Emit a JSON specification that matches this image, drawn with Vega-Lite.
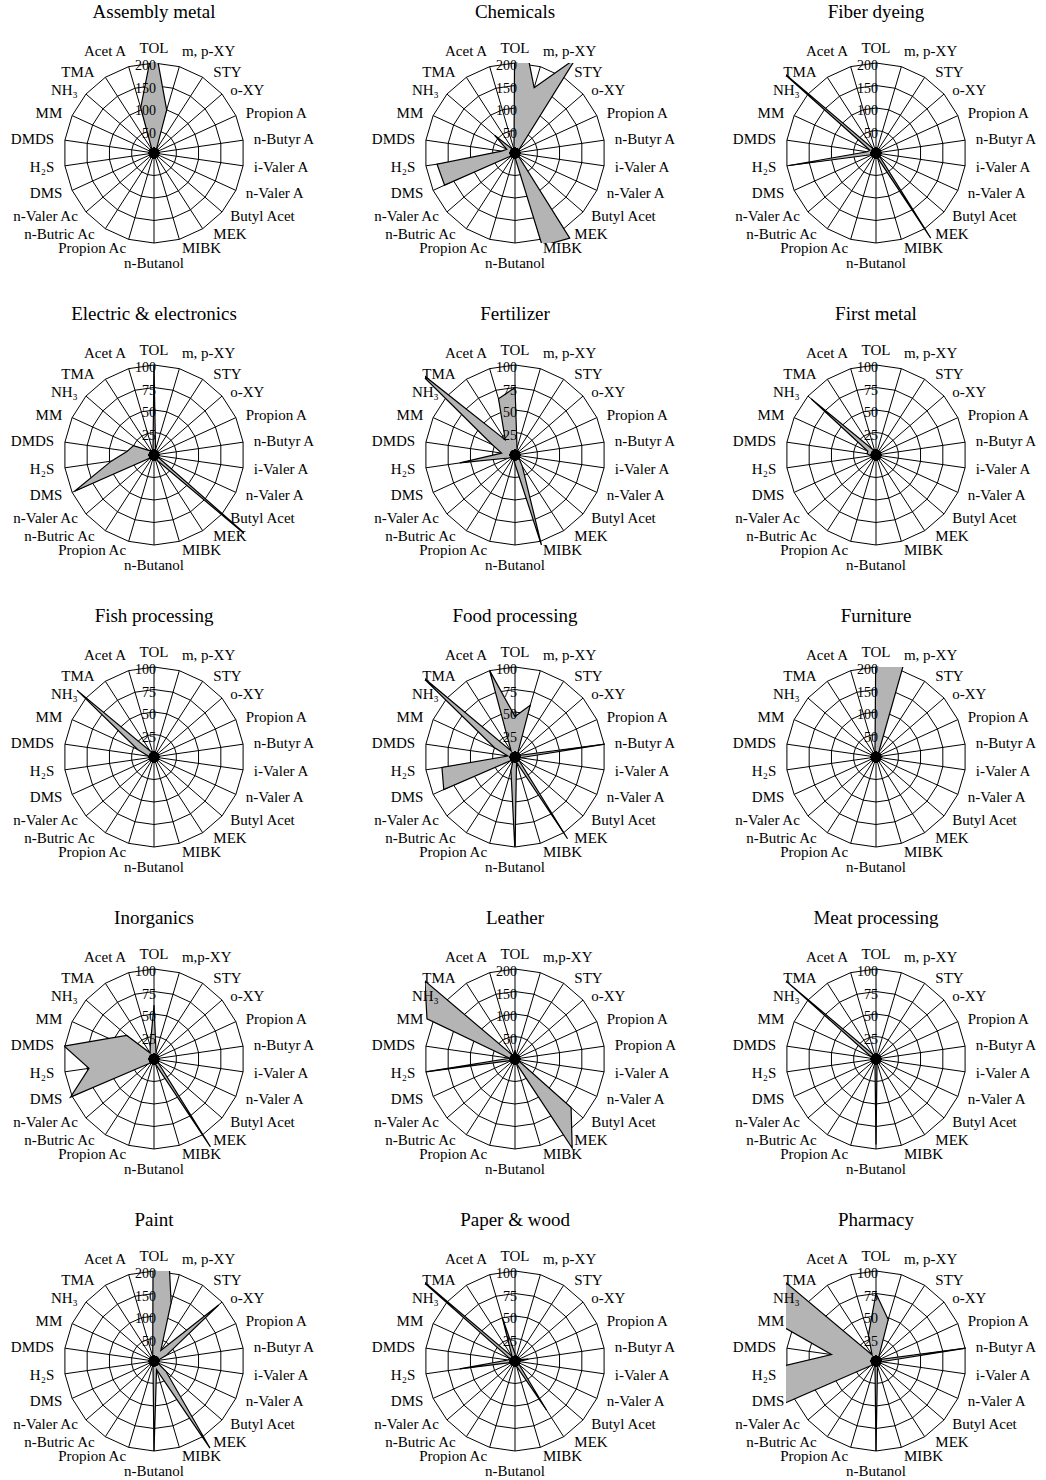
{
  "$schema": "https://vega.github.io/schema/vega-lite/v6.json",
  "padding": {"left": 10, "top": 2, "right": 5, "bottom": 0},
  "background": "white",
  "datasets": {
    "panels": [
      {"panel": "Assembly metal", "max": 200},
      {"panel": "Chemicals", "max": 200},
      {"panel": "Fiber dyeing", "max": 200},
      {"panel": "Electric & electronics", "max": 100},
      {"panel": "Fertilizer", "max": 100},
      {"panel": "First metal", "max": 100},
      {"panel": "Fish processing", "max": 100},
      {"panel": "Food processing", "max": 100},
      {"panel": "Furniture", "max": 200},
      {"panel": "Inorganics", "max": 100},
      {"panel": "Leather", "max": 200},
      {"panel": "Meat processing", "max": 100},
      {"panel": "Paint", "max": 200},
      {"panel": "Paper & wood", "max": 100},
      {"panel": "Pharmacy", "max": 100}
    ],
    "d": [
      {"panel": "Assembly metal", "var": "TOL", "val": 250},
      {"panel": "Assembly metal", "var": "m, p-XY", "val": 100},
      {"panel": "Assembly metal", "var": "STY", "val": 10},
      {"panel": "Assembly metal", "var": "o-XY", "val": 8},
      {"panel": "Assembly metal", "var": "Propion A", "val": 6},
      {"panel": "Assembly metal", "var": "n-Butyr A", "val": 6},
      {"panel": "Assembly metal", "var": "i-Valer A", "val": 6},
      {"panel": "Assembly metal", "var": "n-Valer A", "val": 6},
      {"panel": "Assembly metal", "var": "Butyl Acet", "val": 8},
      {"panel": "Assembly metal", "var": "MEK", "val": 10},
      {"panel": "Assembly metal", "var": "MIBK", "val": 8},
      {"panel": "Assembly metal", "var": "n-Butanol", "val": 10},
      {"panel": "Assembly metal", "var": "Propion Ac", "val": 6},
      {"panel": "Assembly metal", "var": "n-Butric Ac", "val": 6},
      {"panel": "Assembly metal", "var": "n-Valer Ac", "val": 6},
      {"panel": "Assembly metal", "var": "DMS", "val": 6},
      {"panel": "Assembly metal", "var": "H₂S", "val": 8},
      {"panel": "Assembly metal", "var": "DMDS", "val": 8},
      {"panel": "Assembly metal", "var": "MM", "val": 10},
      {"panel": "Assembly metal", "var": "NH₃", "val": 12},
      {"panel": "Assembly metal", "var": "TMA", "val": 8},
      {"panel": "Assembly metal", "var": "Acet A", "val": 105},

      {"panel": "Chemicals", "var": "TOL", "val": 360},
      {"panel": "Chemicals", "var": "m, p-XY", "val": 151},
      {"panel": "Chemicals", "var": "STY", "val": 250},
      {"panel": "Chemicals", "var": "o-XY", "val": 12},
      {"panel": "Chemicals", "var": "Propion A", "val": 8},
      {"panel": "Chemicals", "var": "n-Butyr A", "val": 8},
      {"panel": "Chemicals", "var": "i-Valer A", "val": 8},
      {"panel": "Chemicals", "var": "n-Valer A", "val": 8},
      {"panel": "Chemicals", "var": "Butyl Acet", "val": 10},
      {"panel": "Chemicals", "var": "MEK", "val": 225},
      {"panel": "Chemicals", "var": "MIBK", "val": 215},
      {"panel": "Chemicals", "var": "n-Butanol", "val": 10},
      {"panel": "Chemicals", "var": "Propion Ac", "val": 8},
      {"panel": "Chemicals", "var": "n-Butric Ac", "val": 8},
      {"panel": "Chemicals", "var": "n-Valer Ac", "val": 8},
      {"panel": "Chemicals", "var": "DMS", "val": 172},
      {"panel": "Chemicals", "var": "H₂S", "val": 175},
      {"panel": "Chemicals", "var": "DMDS", "val": 30},
      {"panel": "Chemicals", "var": "MM", "val": 20},
      {"panel": "Chemicals", "var": "NH₃", "val": 60},
      {"panel": "Chemicals", "var": "TMA", "val": 10},
      {"panel": "Chemicals", "var": "Acet A", "val": 8},

      {"panel": "Fiber dyeing", "var": "TOL", "val": 8},
      {"panel": "Fiber dyeing", "var": "m, p-XY", "val": 8},
      {"panel": "Fiber dyeing", "var": "STY", "val": 8},
      {"panel": "Fiber dyeing", "var": "o-XY", "val": 8},
      {"panel": "Fiber dyeing", "var": "Propion A", "val": 8},
      {"panel": "Fiber dyeing", "var": "n-Butyr A", "val": 8},
      {"panel": "Fiber dyeing", "var": "i-Valer A", "val": 8},
      {"panel": "Fiber dyeing", "var": "n-Valer A", "val": 8},
      {"panel": "Fiber dyeing", "var": "Butyl Acet", "val": 10},
      {"panel": "Fiber dyeing", "var": "MEK", "val": 225},
      {"panel": "Fiber dyeing", "var": "MIBK", "val": 10},
      {"panel": "Fiber dyeing", "var": "n-Butanol", "val": 8},
      {"panel": "Fiber dyeing", "var": "Propion Ac", "val": 6},
      {"panel": "Fiber dyeing", "var": "n-Butric Ac", "val": 6},
      {"panel": "Fiber dyeing", "var": "n-Valer Ac", "val": 6},
      {"panel": "Fiber dyeing", "var": "DMS", "val": 8},
      {"panel": "Fiber dyeing", "var": "H₂S", "val": 195},
      {"panel": "Fiber dyeing", "var": "DMDS", "val": 20},
      {"panel": "Fiber dyeing", "var": "MM", "val": 15},
      {"panel": "Fiber dyeing", "var": "NH₃", "val": 300},
      {"panel": "Fiber dyeing", "var": "TMA", "val": 10},
      {"panel": "Fiber dyeing", "var": "Acet A", "val": 8},

      {"panel": "Electric & electronics", "var": "TOL", "val": 100},
      {"panel": "Electric & electronics", "var": "m, p-XY", "val": 6},
      {"panel": "Electric & electronics", "var": "STY", "val": 4},
      {"panel": "Electric & electronics", "var": "o-XY", "val": 4},
      {"panel": "Electric & electronics", "var": "Propion A", "val": 4},
      {"panel": "Electric & electronics", "var": "n-Butyr A", "val": 4},
      {"panel": "Electric & electronics", "var": "i-Valer A", "val": 4},
      {"panel": "Electric & electronics", "var": "n-Valer A", "val": 4},
      {"panel": "Electric & electronics", "var": "Butyl Acet", "val": 160},
      {"panel": "Electric & electronics", "var": "MEK", "val": 8},
      {"panel": "Electric & electronics", "var": "MIBK", "val": 4},
      {"panel": "Electric & electronics", "var": "n-Butanol", "val": 4},
      {"panel": "Electric & electronics", "var": "Propion Ac", "val": 4},
      {"panel": "Electric & electronics", "var": "n-Butric Ac", "val": 4},
      {"panel": "Electric & electronics", "var": "n-Valer Ac", "val": 4},
      {"panel": "Electric & electronics", "var": "DMS", "val": 97},
      {"panel": "Electric & electronics", "var": "H₂S", "val": 48},
      {"panel": "Electric & electronics", "var": "DMDS", "val": 30},
      {"panel": "Electric & electronics", "var": "MM", "val": 25},
      {"panel": "Electric & electronics", "var": "NH₃", "val": 8},
      {"panel": "Electric & electronics", "var": "TMA", "val": 6},
      {"panel": "Electric & electronics", "var": "Acet A", "val": 4},

      {"panel": "Fertilizer", "var": "TOL", "val": 75},
      {"panel": "Fertilizer", "var": "m, p-XY", "val": 8},
      {"panel": "Fertilizer", "var": "STY", "val": 4},
      {"panel": "Fertilizer", "var": "o-XY", "val": 4},
      {"panel": "Fertilizer", "var": "Propion A", "val": 4},
      {"panel": "Fertilizer", "var": "n-Butyr A", "val": 4},
      {"panel": "Fertilizer", "var": "i-Valer A", "val": 4},
      {"panel": "Fertilizer", "var": "n-Valer A", "val": 4},
      {"panel": "Fertilizer", "var": "Butyl Acet", "val": 6},
      {"panel": "Fertilizer", "var": "MEK", "val": 15},
      {"panel": "Fertilizer", "var": "MIBK", "val": 105},
      {"panel": "Fertilizer", "var": "n-Butanol", "val": 10},
      {"panel": "Fertilizer", "var": "Propion Ac", "val": 4},
      {"panel": "Fertilizer", "var": "n-Butric Ac", "val": 4},
      {"panel": "Fertilizer", "var": "n-Valer Ac", "val": 4},
      {"panel": "Fertilizer", "var": "DMS", "val": 8},
      {"panel": "Fertilizer", "var": "H₂S", "val": 62},
      {"panel": "Fertilizer", "var": "DMDS", "val": 15},
      {"panel": "Fertilizer", "var": "MM", "val": 28},
      {"panel": "Fertilizer", "var": "NH₃", "val": 145},
      {"panel": "Fertilizer", "var": "TMA", "val": 20},
      {"panel": "Fertilizer", "var": "Acet A", "val": 65},

      {"panel": "First metal", "var": "TOL", "val": 6},
      {"panel": "First metal", "var": "m, p-XY", "val": 4},
      {"panel": "First metal", "var": "STY", "val": 4},
      {"panel": "First metal", "var": "o-XY", "val": 4},
      {"panel": "First metal", "var": "Propion A", "val": 4},
      {"panel": "First metal", "var": "n-Butyr A", "val": 4},
      {"panel": "First metal", "var": "i-Valer A", "val": 4},
      {"panel": "First metal", "var": "n-Valer A", "val": 4},
      {"panel": "First metal", "var": "Butyl Acet", "val": 4},
      {"panel": "First metal", "var": "MEK", "val": 4},
      {"panel": "First metal", "var": "MIBK", "val": 4},
      {"panel": "First metal", "var": "n-Butanol", "val": 4},
      {"panel": "First metal", "var": "Propion Ac", "val": 4},
      {"panel": "First metal", "var": "n-Butric Ac", "val": 4},
      {"panel": "First metal", "var": "n-Valer Ac", "val": 4},
      {"panel": "First metal", "var": "DMS", "val": 4},
      {"panel": "First metal", "var": "H₂S", "val": 6},
      {"panel": "First metal", "var": "DMDS", "val": 10},
      {"panel": "First metal", "var": "MM", "val": 10},
      {"panel": "First metal", "var": "NH₃", "val": 95},
      {"panel": "First metal", "var": "TMA", "val": 8},
      {"panel": "First metal", "var": "Acet A", "val": 6},

      {"panel": "Fish processing", "var": "TOL", "val": 6},
      {"panel": "Fish processing", "var": "m, p-XY", "val": 4},
      {"panel": "Fish processing", "var": "STY", "val": 4},
      {"panel": "Fish processing", "var": "o-XY", "val": 4},
      {"panel": "Fish processing", "var": "Propion A", "val": 4},
      {"panel": "Fish processing", "var": "n-Butyr A", "val": 4},
      {"panel": "Fish processing", "var": "i-Valer A", "val": 4},
      {"panel": "Fish processing", "var": "n-Valer A", "val": 4},
      {"panel": "Fish processing", "var": "Butyl Acet", "val": 4},
      {"panel": "Fish processing", "var": "MEK", "val": 4},
      {"panel": "Fish processing", "var": "MIBK", "val": 4},
      {"panel": "Fish processing", "var": "n-Butanol", "val": 4},
      {"panel": "Fish processing", "var": "Propion Ac", "val": 4},
      {"panel": "Fish processing", "var": "n-Butric Ac", "val": 4},
      {"panel": "Fish processing", "var": "n-Valer Ac", "val": 4},
      {"panel": "Fish processing", "var": "DMS", "val": 4},
      {"panel": "Fish processing", "var": "H₂S", "val": 4},
      {"panel": "Fish processing", "var": "DMDS", "val": 6},
      {"panel": "Fish processing", "var": "MM", "val": 20},
      {"panel": "Fish processing", "var": "NH₃", "val": 113},
      {"panel": "Fish processing", "var": "TMA", "val": 8},
      {"panel": "Fish processing", "var": "Acet A", "val": 6},

      {"panel": "Food processing", "var": "TOL", "val": 45},
      {"panel": "Food processing", "var": "m, p-XY", "val": 60},
      {"panel": "Food processing", "var": "STY", "val": 6},
      {"panel": "Food processing", "var": "o-XY", "val": 6},
      {"panel": "Food processing", "var": "Propion A", "val": 4},
      {"panel": "Food processing", "var": "n-Butyr A", "val": 105},
      {"panel": "Food processing", "var": "i-Valer A", "val": 6},
      {"panel": "Food processing", "var": "n-Valer A", "val": 4},
      {"panel": "Food processing", "var": "Butyl Acet", "val": 6},
      {"panel": "Food processing", "var": "MEK", "val": 108},
      {"panel": "Food processing", "var": "MIBK", "val": 6},
      {"panel": "Food processing", "var": "n-Butanol", "val": 105},
      {"panel": "Food processing", "var": "Propion Ac", "val": 16},
      {"panel": "Food processing", "var": "n-Butric Ac", "val": 4},
      {"panel": "Food processing", "var": "n-Valer Ac", "val": 6},
      {"panel": "Food processing", "var": "DMS", "val": 87},
      {"panel": "Food processing", "var": "H₂S", "val": 82},
      {"panel": "Food processing", "var": "DMDS", "val": 8},
      {"panel": "Food processing", "var": "MM", "val": 25},
      {"panel": "Food processing", "var": "NH₃", "val": 140},
      {"panel": "Food processing", "var": "TMA", "val": 8},
      {"panel": "Food processing", "var": "Acet A", "val": 100},

      {"panel": "Furniture", "var": "TOL", "val": 300},
      {"panel": "Furniture", "var": "m, p-XY", "val": 300},
      {"panel": "Furniture", "var": "STY", "val": 10},
      {"panel": "Furniture", "var": "o-XY", "val": 6},
      {"panel": "Furniture", "var": "Propion A", "val": 6},
      {"panel": "Furniture", "var": "n-Butyr A", "val": 12},
      {"panel": "Furniture", "var": "i-Valer A", "val": 6},
      {"panel": "Furniture", "var": "n-Valer A", "val": 6},
      {"panel": "Furniture", "var": "Butyl Acet", "val": 8},
      {"panel": "Furniture", "var": "MEK", "val": 6},
      {"panel": "Furniture", "var": "MIBK", "val": 6},
      {"panel": "Furniture", "var": "n-Butanol", "val": 8},
      {"panel": "Furniture", "var": "Propion Ac", "val": 6},
      {"panel": "Furniture", "var": "n-Butric Ac", "val": 6},
      {"panel": "Furniture", "var": "n-Valer Ac", "val": 6},
      {"panel": "Furniture", "var": "DMS", "val": 6},
      {"panel": "Furniture", "var": "H₂S", "val": 6},
      {"panel": "Furniture", "var": "DMDS", "val": 6},
      {"panel": "Furniture", "var": "MM", "val": 6},
      {"panel": "Furniture", "var": "NH₃", "val": 8},
      {"panel": "Furniture", "var": "TMA", "val": 6},
      {"panel": "Furniture", "var": "Acet A", "val": 8},

      {"panel": "Inorganics", "var": "TOL", "val": 60},
      {"panel": "Inorganics", "var": "m,p-XY", "val": 8},
      {"panel": "Inorganics", "var": "STY", "val": 4},
      {"panel": "Inorganics", "var": "o-XY", "val": 4},
      {"panel": "Inorganics", "var": "Propion A", "val": 4},
      {"panel": "Inorganics", "var": "n-Butyr A", "val": 4},
      {"panel": "Inorganics", "var": "i-Valer A", "val": 4},
      {"panel": "Inorganics", "var": "n-Valer A", "val": 4},
      {"panel": "Inorganics", "var": "Butyl Acet", "val": 6},
      {"panel": "Inorganics", "var": "MEK", "val": 116},
      {"panel": "Inorganics", "var": "MIBK", "val": 6},
      {"panel": "Inorganics", "var": "n-Butanol", "val": 4},
      {"panel": "Inorganics", "var": "Propion Ac", "val": 4},
      {"panel": "Inorganics", "var": "n-Butric Ac", "val": 4},
      {"panel": "Inorganics", "var": "n-Valer Ac", "val": 8},
      {"panel": "Inorganics", "var": "DMS", "val": 102},
      {"panel": "Inorganics", "var": "H₂S", "val": 73},
      {"panel": "Inorganics", "var": "DMDS", "val": 101},
      {"panel": "Inorganics", "var": "MM", "val": 55},
      {"panel": "Inorganics", "var": "NH₃", "val": 40},
      {"panel": "Inorganics", "var": "TMA", "val": 8},
      {"panel": "Inorganics", "var": "Acet A", "val": 15},

      {"panel": "Leather", "var": "TOL", "val": 20},
      {"panel": "Leather", "var": "m,p-XY", "val": 8},
      {"panel": "Leather", "var": "STY", "val": 8},
      {"panel": "Leather", "var": "o-XY", "val": 8},
      {"panel": "Leather", "var": "Propion A", "val": 8},
      {"panel": "Leather", "var": "Propion A", "val": 8},
      {"panel": "Leather", "var": "i-Valer A", "val": 8},
      {"panel": "Leather", "var": "n-Valer A", "val": 8},
      {"panel": "Leather", "var": "Butyl Acet", "val": 165},
      {"panel": "Leather", "var": "MEK", "val": 235},
      {"panel": "Leather", "var": "MIBK", "val": 10},
      {"panel": "Leather", "var": "n-Butanol", "val": 8},
      {"panel": "Leather", "var": "Propion Ac", "val": 8},
      {"panel": "Leather", "var": "n-Butric Ac", "val": 8},
      {"panel": "Leather", "var": "n-Valer Ac", "val": 8},
      {"panel": "Leather", "var": "DMS", "val": 8},
      {"panel": "Leather", "var": "H₂S", "val": 200},
      {"panel": "Leather", "var": "DMDS", "val": 12},
      {"panel": "Leather", "var": "MM", "val": 215},
      {"panel": "Leather", "var": "NH₃", "val": 265},
      {"panel": "Leather", "var": "TMA", "val": 10},
      {"panel": "Leather", "var": "Acet A", "val": 8},

      {"panel": "Meat processing", "var": "TOL", "val": 4},
      {"panel": "Meat processing", "var": "m, p-XY", "val": 4},
      {"panel": "Meat processing", "var": "STY", "val": 4},
      {"panel": "Meat processing", "var": "o-XY", "val": 4},
      {"panel": "Meat processing", "var": "Propion A", "val": 4},
      {"panel": "Meat processing", "var": "n-Butyr A", "val": 4},
      {"panel": "Meat processing", "var": "i-Valer A", "val": 4},
      {"panel": "Meat processing", "var": "n-Valer A", "val": 4},
      {"panel": "Meat processing", "var": "Butyl Acet", "val": 4},
      {"panel": "Meat processing", "var": "MEK", "val": 4},
      {"panel": "Meat processing", "var": "MIBK", "val": 4},
      {"panel": "Meat processing", "var": "n-Butanol", "val": 95},
      {"panel": "Meat processing", "var": "Propion Ac", "val": 4},
      {"panel": "Meat processing", "var": "n-Butric Ac", "val": 4},
      {"panel": "Meat processing", "var": "n-Valer Ac", "val": 4},
      {"panel": "Meat processing", "var": "DMS", "val": 4},
      {"panel": "Meat processing", "var": "H₂S", "val": 4},
      {"panel": "Meat processing", "var": "DMDS", "val": 4},
      {"panel": "Meat processing", "var": "MM", "val": 6},
      {"panel": "Meat processing", "var": "NH₃", "val": 135},
      {"panel": "Meat processing", "var": "TMA", "val": 6},
      {"panel": "Meat processing", "var": "Acet A", "val": 4},

      {"panel": "Paint", "var": "TOL", "val": 900},
      {"panel": "Paint", "var": "m, p-XY", "val": 135},
      {"panel": "Paint", "var": "STY", "val": 28},
      {"panel": "Paint", "var": "o-XY", "val": 190},
      {"panel": "Paint", "var": "Propion A", "val": 30},
      {"panel": "Paint", "var": "n-Butyr A", "val": 8},
      {"panel": "Paint", "var": "i-Valer A", "val": 8},
      {"panel": "Paint", "var": "n-Valer A", "val": 8},
      {"panel": "Paint", "var": "Butyl Acet", "val": 35},
      {"panel": "Paint", "var": "MEK", "val": 230},
      {"panel": "Paint", "var": "MIBK", "val": 20},
      {"panel": "Paint", "var": "n-Butanol", "val": 200},
      {"panel": "Paint", "var": "Propion Ac", "val": 8},
      {"panel": "Paint", "var": "n-Butric Ac", "val": 8},
      {"panel": "Paint", "var": "n-Valer Ac", "val": 8},
      {"panel": "Paint", "var": "DMS", "val": 8},
      {"panel": "Paint", "var": "H₂S", "val": 8},
      {"panel": "Paint", "var": "DMDS", "val": 8},
      {"panel": "Paint", "var": "MM", "val": 8},
      {"panel": "Paint", "var": "NH₃", "val": 8},
      {"panel": "Paint", "var": "TMA", "val": 8},
      {"panel": "Paint", "var": "Acet A", "val": 10},

      {"panel": "Paper & wood", "var": "TOL", "val": 8},
      {"panel": "Paper & wood", "var": "m, p-XY", "val": 4},
      {"panel": "Paper & wood", "var": "STY", "val": 4},
      {"panel": "Paper & wood", "var": "o-XY", "val": 4},
      {"panel": "Paper & wood", "var": "Propion A", "val": 4},
      {"panel": "Paper & wood", "var": "n-Butyr A", "val": 15},
      {"panel": "Paper & wood", "var": "i-Valer A", "val": 4},
      {"panel": "Paper & wood", "var": "n-Valer A", "val": 4},
      {"panel": "Paper & wood", "var": "Butyl Acet", "val": 6},
      {"panel": "Paper & wood", "var": "MEK", "val": 65},
      {"panel": "Paper & wood", "var": "MIBK", "val": 6},
      {"panel": "Paper & wood", "var": "n-Butanol", "val": 4},
      {"panel": "Paper & wood", "var": "Propion Ac", "val": 4},
      {"panel": "Paper & wood", "var": "n-Butric Ac", "val": 4},
      {"panel": "Paper & wood", "var": "n-Valer Ac", "val": 4},
      {"panel": "Paper & wood", "var": "DMS", "val": 4},
      {"panel": "Paper & wood", "var": "H₂S", "val": 62},
      {"panel": "Paper & wood", "var": "DMDS", "val": 8},
      {"panel": "Paper & wood", "var": "MM", "val": 6},
      {"panel": "Paper & wood", "var": "NH₃", "val": 160},
      {"panel": "Paper & wood", "var": "TMA", "val": 6},
      {"panel": "Paper & wood", "var": "Acet A", "val": 50},

      {"panel": "Pharmacy", "var": "TOL", "val": 75},
      {"panel": "Pharmacy", "var": "m, p-XY", "val": 48},
      {"panel": "Pharmacy", "var": "STY", "val": 6},
      {"panel": "Pharmacy", "var": "o-XY", "val": 4},
      {"panel": "Pharmacy", "var": "Propion A", "val": 4},
      {"panel": "Pharmacy", "var": "n-Butyr A", "val": 108},
      {"panel": "Pharmacy", "var": "i-Valer A", "val": 6},
      {"panel": "Pharmacy", "var": "n-Valer A", "val": 4},
      {"panel": "Pharmacy", "var": "Butyl Acet", "val": 4},
      {"panel": "Pharmacy", "var": "MEK", "val": 6},
      {"panel": "Pharmacy", "var": "MIBK", "val": 6},
      {"panel": "Pharmacy", "var": "n-Butanol", "val": 100},
      {"panel": "Pharmacy", "var": "Propion Ac", "val": 4},
      {"panel": "Pharmacy", "var": "n-Butric Ac", "val": 4},
      {"panel": "Pharmacy", "var": "n-Valer Ac", "val": 8},
      {"panel": "Pharmacy", "var": "DMS", "val": 140},
      {"panel": "Pharmacy", "var": "H₂S", "val": 200},
      {"panel": "Pharmacy", "var": "DMDS", "val": 50},
      {"panel": "Pharmacy", "var": "MM", "val": 200},
      {"panel": "Pharmacy", "var": "NH₃", "val": 150},
      {"panel": "Pharmacy", "var": "TMA", "val": 8},
      {"panel": "Pharmacy", "var": "Acet A", "val": 30}
    ]
  },
  "data": {"name": "d"},
  "transform": [
    {"window": [{"op": "row_number", "as": "k"}], "groupby": ["panel"]},
    {"lookup": "panel", "from": {"data": {"name": "panels"}, "key": "panel", "fields": ["max"]}},
    {"calculate": "(datum.k - 1) * PI / 11", "as": "th"},
    {"calculate": "sin(datum.th)", "as": "sx"},
    {"calculate": "cos(datum.th)", "as": "cy"},
    {"calculate": "0", "as": "z"},
    {"calculate": "datum.val / datum.max", "as": "r"},
    {"calculate": "datum.r * datum.sx", "as": "px"},
    {"calculate": "datum.r * datum.cy", "as": "py"},
    {"calculate": "abs(datum.cy) > 0.95 ? 1.1 * datum.sx : (abs(datum.cy) > 0.8 ? 1.22 * datum.sx : 1.12 * datum.sx)", "as": "lx"},
    {"calculate": "datum.cy > 0.99 ? 1.17 : (datum.cy < -0.99 ? -1.22 : (datum.cy > 0.95 ? 1.18 * datum.cy : (datum.cy < -0.95 ? 1.1 * datum.cy : 1.07 * datum.cy)))", "as": "ly"}
  ],
  "facet": {
    "field": "panel",
    "type": "nominal",
    "sort": ["Assembly metal", "Chemicals", "Fiber dyeing", "Electric & electronics", "Fertilizer", "First metal", "Fish processing", "Food processing", "Furniture", "Inorganics", "Leather", "Meat processing", "Paint", "Paper & wood", "Pharmacy"],
    "header": {"title": null, "labelFont": "Liberation Serif", "labelFontSize": 19, "labelPadding": 19, "labelColor": "black"}
  },
  "columns": 3,
  "spacing": {"row": 122, "column": 181},
  "bounds": "flush",
  "spec": {
    "width": 180,
    "height": 180,
    "layer": [
      {
        "transform": [
          {"calculate": "[0.25, 0.5, 0.75, 1]", "as": "lv"},
          {"flatten": ["lv"]},
          {"calculate": "datum.lv * datum.sx", "as": "gx"},
          {"calculate": "datum.lv * datum.cy", "as": "gy"}
        ],
        "mark": {"type": "line", "interpolate": "linear-closed", "color": "black", "strokeWidth": 1},
        "encoding": {
          "x": {"field": "gx", "type": "quantitative", "scale": {"domain": [-1, 1], "nice": false}, "axis": null},
          "y": {"field": "gy", "type": "quantitative", "scale": {"domain": [-1, 1], "nice": false}, "axis": null},
          "detail": {"field": "lv", "type": "nominal"},
          "order": {"field": "k", "type": "quantitative"}
        }
      },
      {
        "mark": {"type": "rule", "color": "black", "strokeWidth": 1},
        "encoding": {
          "x": {"field": "z", "type": "quantitative", "axis": null},
          "y": {"field": "z", "type": "quantitative", "axis": null},
          "x2": {"field": "sx"},
          "y2": {"field": "cy"}
        }
      },
      {
        "mark": {"type": "line", "interpolate": "linear-closed", "fill": "#b4b4b4", "stroke": "black", "strokeWidth": 1.2, "clip": true},
        "encoding": {
          "x": {"field": "px", "type": "quantitative", "axis": null},
          "y": {"field": "py", "type": "quantitative", "axis": null},
          "order": {"field": "k", "type": "quantitative"}
        }
      },
      {
        "mark": {"type": "point", "filled": true, "color": "black", "size": 110, "opacity": 1},
        "encoding": {
          "x": {"field": "z", "type": "quantitative", "axis": null},
          "y": {"field": "z", "type": "quantitative", "axis": null}
        }
      },
      {
        "transform": [{"filter": "datum.sx > 0.1"}],
        "mark": {"type": "text", "align": "left", "baseline": "middle", "color": "black"},
        "encoding": {
          "x": {"field": "lx", "type": "quantitative", "axis": null},
          "y": {"field": "ly", "type": "quantitative", "axis": null},
          "text": {"field": "var", "type": "nominal"}
        }
      },
      {
        "transform": [{"filter": "datum.sx < -0.1"}],
        "mark": {"type": "text", "align": "right", "baseline": "middle", "color": "black"},
        "encoding": {
          "x": {"field": "lx", "type": "quantitative", "axis": null},
          "y": {"field": "ly", "type": "quantitative", "axis": null},
          "text": {"field": "var", "type": "nominal"}
        }
      },
      {
        "transform": [{"filter": "abs(datum.sx) <= 0.1"}],
        "mark": {"type": "text", "align": "center", "baseline": "middle", "color": "black"},
        "encoding": {
          "x": {"field": "lx", "type": "quantitative", "axis": null},
          "y": {"field": "ly", "type": "quantitative", "axis": null},
          "text": {"field": "var", "type": "nominal"}
        }
      },
      {
        "transform": [
          {"filter": "datum.k == 1"},
          {"calculate": "[0.25, 0.5, 0.75, 1]", "as": "lv"},
          {"flatten": ["lv"]},
          {"calculate": "format(datum.lv * datum.max, 'd')", "as": "tl"}
        ],
        "mark": {"type": "text", "align": "right", "baseline": "middle", "fontSize": 14, "dx": 2, "dy": 3, "color": "black"},
        "encoding": {
          "x": {"field": "z", "type": "quantitative", "axis": null},
          "y": {"field": "lv", "type": "quantitative", "axis": null},
          "text": {"field": "tl", "type": "nominal"}
        }
      }
    ]
  },
  "config": {
    "view": {"stroke": null},
    "text": {"font": "Liberation Serif", "fontSize": 15, "color": "black"}
  }
}
